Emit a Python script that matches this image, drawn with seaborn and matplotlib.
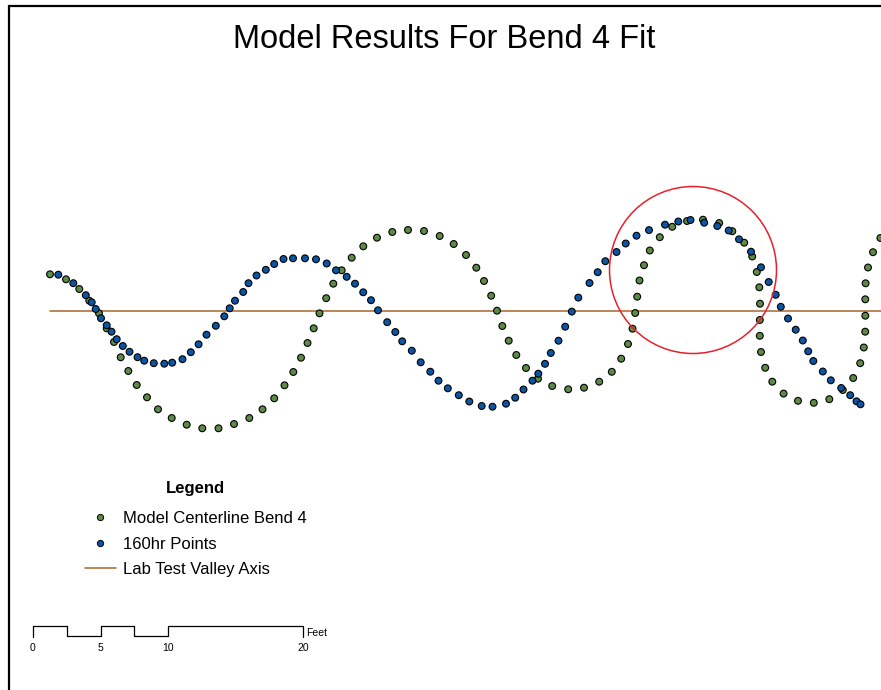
import numpy as np
import pandas as pd
import matplotlib
matplotlib.use("Agg")
import matplotlib.pyplot as plt
from matplotlib.lines import Line2D
from matplotlib.patches import Circle
import seaborn as sns

# ---- data (map units: pixels of the layout, y downward) ----
green_x = [50, 66, 79.3, 89.3, 99, 106.7, 114, 120.7, 128.3, 136.7, 147, 158, 171.7, 186.7,
           202.3, 218.5, 234, 249.3, 262.5, 274.2, 284.5, 293.3, 301, 307.5, 313.7, 319.5,
           326.2, 333.3, 341.7, 351.7, 363.3, 377, 392.3, 408, 424, 439.7, 453.7, 466, 476.3,
           484, 491.2, 497, 502.3, 508.7, 516.3, 526, 538, 552.2, 568.2, 584, 599.2, 611.8,
           621.2, 628, 632.5, 635.2, 637.2, 639.5, 644, 649.8, 659.8, 672.2, 687, 703, 719.2,
           732.3, 744.2, 752.2, 756.8, 759.3, 760, 759.8, 759.8, 761, 765.2, 772.3, 783.6,
           798, 813.8, 829.3, 842.8, 853.2, 860.2, 863.8, 865.2, 865.3, 865.3, 865.6, 868,
           873, 880.4]
green_y = [274.3, 279.3, 289, 300.7, 313.3, 328.3, 342, 357.3, 371, 385, 397.3, 409.3, 418,
           424.7, 428.3, 428.3, 424, 418, 409.3, 398.3, 385.3, 372, 357.7, 343, 328.3, 313.3,
           298.2, 283.7, 270.3, 257.7, 246.3, 237.7, 232, 230, 231, 236, 244, 255, 267.7, 281,
           295.7, 310.7, 326, 340.7, 355, 368, 378.7, 386, 389.3, 387.7, 381.7, 371.8, 358.7,
           344, 328.7, 313, 296.7, 280.5, 265.2, 250.5, 237.2, 226.8, 221, 219.7, 223, 231.2,
           242.7, 256.5, 272, 287.3, 303.7, 320, 335.8, 352, 367.8, 381.7, 393.6, 400.8,
           402.8, 399.2, 390, 378, 363.2, 347.5, 331.7, 315.7, 299.3, 283.3, 267.5, 252.2,
           238]

blue_x = [58.3, 73.3, 85.8, 91.7, 95.7, 101, 106.7, 111.5, 116.7, 122.8, 129.5, 137.5, 144.2,
          153.8, 164.3, 172.2, 182.5, 190.8, 198.6, 206.5, 215.8, 224.3, 229.7, 235, 243.2,
          248.5, 256.5, 265.8, 274.2, 283.5, 293, 305, 316, 326.7, 336, 346.7, 355, 363.2,
          371, 378, 387.2, 395.3, 402.2, 411.8, 420.7, 430.3, 438.5, 447.8, 458.8, 469.3,
          481.7, 492.5, 506, 515.2, 523.5, 532.5, 538.3, 545, 550.8, 558.5, 565.2, 571.8,
          578.3, 589.5, 597.7, 605.3, 616.5, 625.7, 636.5, 649, 665, 678.3, 690.5, 704.2,
          717.3, 728.7, 739, 751, 761, 768.7, 775.7, 780.8, 788, 795.7, 802.8, 808.2, 813.3,
          822.8, 830.8, 841.2, 850.2, 856.5, 860.5]
blue_y = [274.7, 283.2, 295.2, 302.3, 309, 318.3, 325.3, 331.7, 339.2, 346, 351.8, 357.2,
          360.7, 363.2, 363.7, 362.7, 359.2, 352.2, 344.3, 334.7, 325.8, 316.3, 308.3, 300.7,
          292, 283.2, 275.5, 269.8, 264, 259, 258.3, 258.3, 259.3, 263.5, 270.3, 276.8, 283.7,
          292.3, 300.2, 310.3, 322.2, 332, 341.3, 350.7, 362.3, 371.7, 380.7, 388.3, 395.2,
          401.5, 406, 406.7, 403.7, 397.7, 389.5, 380.7, 373.7, 363.8, 353, 340.7, 326.7,
          311.6, 297.6, 283, 272.2, 261.2, 252, 243.5, 235.7, 230.1, 224.7, 221.5, 220, 222.7,
          226, 230.5, 239.3, 251.7, 267.3, 282, 294.8, 306.8, 318.5, 329.7, 340.5, 351.3, 361,
          371.5, 380.3, 388, 395.2, 401.3, 404.3]

valley_x = [50, 881]
valley_y = [310.5, 310.5]

series_names = ["Model Centerline Bend 4", "160hr Points", "Lab Test Valley Axis"]
scale_ticks = [0, 5, 10, 20]

GREEN = "#5d8b45"
BLUE = "#0a55a6"
BROWN = "#a8652e"

sns.set_theme(style="white")
plt.rcParams["font.family"] = ["Liberation Sans", "DejaVu Sans"]
plt.rcParams["text.color"] = "black"

fig = plt.figure(figsize=(8.81, 6.90), dpi=100)
ax = fig.add_axes([0, 0, 1, 1])
ax.set_xlim(0, 881)
ax.set_ylim(690, 0)
ax.set_axis_off()

# frame (left and top edges visible)
ax.plot([9, 9, 881], [690, 6, 6], color="black", lw=1.6, solid_capstyle="projecting",
        solid_joinstyle="miter", zorder=1)

# valley axis
sns.lineplot(x=valley_x, y=valley_y, color=BROWN, lw=1.1, ax=ax, zorder=2,
             estimator=None, sort=False)

df = pd.concat([
    pd.DataFrame({"x": green_x, "y": green_y, "series": series_names[0]}),
    pd.DataFrame({"x": blue_x, "y": blue_y, "series": series_names[1]}),
])
sns.scatterplot(data=df, x="x", y="y", hue="series",
                palette={series_names[0]: GREEN, series_names[1]: BLUE},
                s=24, edgecolor="black", linewidth=0.8, legend=False, ax=ax, zorder=3)

# red circle highlight
ax.add_patch(Circle((693, 270), 83.5, fill=False, edgecolor="#e8202a", lw=1.1, zorder=4))

ax.set_xlabel("")
ax.set_ylabel("")

# title
ax.text(444.5, 40, "Model Results For Bend 4 Fit", ha="center", va="center", fontsize=23.5,
        color="black")

# legend
handles = [
    Line2D([], [], ls="none", marker="o", markersize=4.5, markerfacecolor=GREEN,
           markeredgecolor="black", markeredgewidth=0.7),
    Line2D([], [], ls="none", marker="o", markersize=4.5, markerfacecolor=BLUE,
           markeredgecolor="black", markeredgewidth=0.7),
    Line2D([], [], color=BROWN, lw=1.1),
]
leg = ax.legend(handles, series_names, title="Legend", loc="upper left",
                bbox_to_anchor=(85 / 881, 1 - 481 / 690), frameon=False, fontsize=12,
                title_fontproperties={"weight": "bold", "size": 12},
                handlelength=1.85, handletextpad=0.42, labelspacing=0.63, borderpad=0,
                borderaxespad=0, labelcolor="black")
leg.get_title().set_color("black")
leg._legend_box.sep = 11

# scale bar
px_per_ft = 13.5
x0, ytop, ybot = 33, 626, 636
def fx(f):
    return x0 + f * px_per_ft
sb_x = [fx(0), fx(0), fx(2.5), fx(2.5), fx(5), fx(5), fx(7.5), fx(7.5), fx(10), fx(10),
        fx(20), fx(20)]
sb_y = [ybot + 1, ytop, ytop, ybot, ybot, ytop, ytop, ybot, ybot, ytop, ytop, ybot + 1]
ax.plot(sb_x, sb_y, color="black", lw=0.9, zorder=3)
for t in scale_ticks:
    ax.text(fx(t), 648, str(t), ha="center", va="center", fontsize=7.5)
ax.text(fx(20) + 3, 633, "Feet", ha="left", va="center", fontsize=7.5)

fig.savefig("out.png", dpi=100)
